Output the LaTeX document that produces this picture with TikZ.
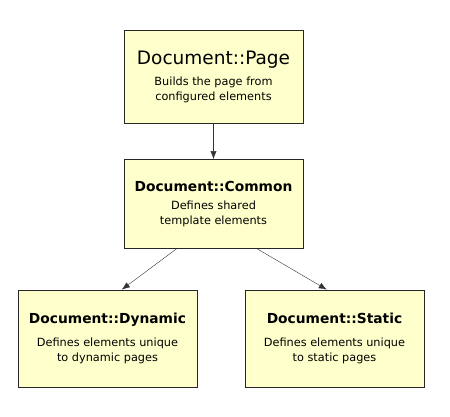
\documentclass[tikz,border=0pt]{standalone}
\usepackage{fontspec}
\setmainfont{DejaVu Sans}
\usetikzlibrary{arrows.meta,positioning}
\definecolor{boxfill}{HTML}{FFFFCC}
\newcommand{\classname}[1]{{\fontsize{13.8}{16}\selectfont\bfseries #1}}

\begin{document}
\begin{tikzpicture}[x=1pt, y=-1pt, node distance=36pt, >={Latex[length=8pt,width=6pt]},
                    class node/.style={rectangle,draw=black!85,fill=boxfill,
                      minimum width=179pt,inner sep=0pt,align=center,
                      font=\fontsize{11.3}{15}\selectfont}]
  \useasboundingbox (0,0) rectangle (450,416);
  \node[class node, minimum height=93pt] (page) at (213.5,76.5)
    {{\fontsize{18.5}{20}\selectfont Document::Page}\\[6pt]
     Builds the page from\\configured elements};
  \node[class node, minimum height=89pt] (common) [below=of page]
    {\classname{Document::Common}\\[3pt]
     Defines shared\\template elements};
  \node[class node, minimum height=97pt] (dynamic) [below=41pt of common, xshift=-106pt]
    {\classname{Document::Dynamic}\\[8pt]
     Defines elements unique\\to dynamic pages};
  \node[class node, minimum height=97pt] (static) [below=41pt of common, xshift=121pt]
    {\classname{Document::Static}\\[8pt]
     Defines elements unique\\to static pages};
  \draw[->, black!80] (page) -- (common);
  \draw[->, black!80] ([xshift=53pt]common.south west) -- ([xshift=104pt]dynamic.north west);
  \draw[->, black!80] ([xshift=133pt]common.south west) -- ([xshift=82pt]static.north west);
\end{tikzpicture}
\end{document}
